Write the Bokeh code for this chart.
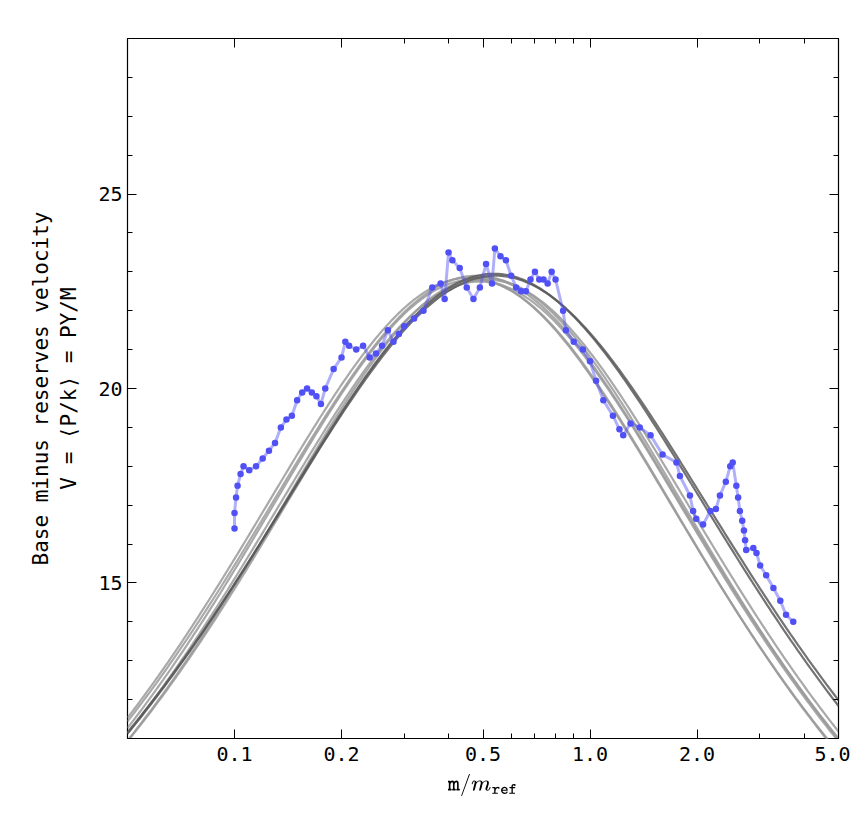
import numpy as np
from bokeh.plotting import figure
from bokeh.models import (Range1d, LinearAxis, LogAxis, FixedTicker)
from bokeh.embed import file_html
from bokeh.resources import INLINE

# measured velocity (blue dots)
m_obs = [0.100, 0.100, 0.101, 0.102, 0.104, 0.106, 0.110, 0.115, 0.12, 0.125,
         0.13, 0.135, 0.14, 0.145, 0.15, 0.155, 0.16, 0.165, 0.17, 0.175,
         0.18, 0.19, 0.20, 0.205, 0.21, 0.22, 0.23, 0.24, 0.25, 0.26,
         0.27, 0.28, 0.29, 0.30, 0.32, 0.34, 0.36, 0.38, 0.39, 0.40,
         0.41, 0.43, 0.45, 0.47, 0.49, 0.51, 0.53, 0.54, 0.56, 0.58,
         0.60, 0.62, 0.64, 0.66, 0.68, 0.70, 0.72, 0.74, 0.76, 0.78,
         0.80, 0.84, 0.855, 0.90, 0.955, 1.00, 1.04, 1.09, 1.16, 1.21,
         1.24, 1.30, 1.38, 1.48, 1.60, 1.75, 1.79, 1.91, 1.95, 1.99,
         2.08, 2.18, 2.26, 2.32, 2.41, 2.48, 2.52, 2.58, 2.61, 2.64,
         2.68, 2.71, 2.73, 2.75, 2.88, 2.94, 3.01, 3.13, 3.28, 3.43,
         3.56, 3.73]
v_obs = [16.4, 16.8, 17.2, 17.5, 17.8, 18.0, 17.9, 18.0, 18.2, 18.4,
         18.6, 19.0, 19.2, 19.3, 19.7, 19.9, 20.0, 19.9, 19.8, 19.6,
         20.0, 20.5, 20.8, 21.2, 21.1, 21.0, 21.1, 20.8, 20.9, 21.1,
         21.5, 21.2, 21.4, 21.6, 21.8, 22.0, 22.6, 22.7, 22.3, 23.5,
         23.3, 23.1, 22.6, 22.3, 22.6, 23.2, 22.7, 23.6, 23.4, 23.3,
         22.9, 22.6, 22.5, 22.5, 22.8, 23.0, 22.8, 22.8, 22.7, 23.0,
         22.8, 22.0, 21.5, 21.2, 21.0, 20.7, 20.2, 19.7, 19.3, 18.95,
         18.8, 19.1, 19.0, 18.8, 18.3, 18.1, 17.75, 17.25, 16.85, 16.65,
         16.5, 16.85, 16.9, 17.25, 17.6, 18.0, 18.1, 17.5, 17.2, 16.85,
         16.6, 16.35, 16.1, 15.85, 15.9, 15.77, 15.45, 15.2, 14.87, 14.54,
         14.18, 14.0]

# fitted curves: peak, log10 of peak position, width, colour
fit_peak = [22.85, 22.80, 22.90, 22.75, 22.85, 22.80, 22.95, 22.90]
fit_centre = [-0.34, -0.33, -0.32, -0.31, -0.30, -0.29, -0.27, -0.265]
fit_width = [0.97, 0.96, 0.98, 0.97, 0.96, 0.97, 1.00, 1.01]
fit_color = ["#9a9a9a"] * 6 + ["#5a5a5a"] * 2

x_major = [0.1, 0.2, 0.5, 1.0, 2.0, 5.0]
x_minor = [0.3, 0.4, 0.6, 0.7, 0.8, 0.9, 3.0, 4.0]
y_major = [15, 20, 25]
y_minor = list(range(11, 30))

FONT = "DejaVu Sans Mono"

p = figure(width=850, height=812, x_axis_type="log",
           x_range=Range1d(0.05, 5.0), y_range=Range1d(11, 29),
           output_backend="svg", toolbar_location=None)
p.min_border_left = 127
p.min_border_right = 12
p.min_border_top = 38
p.min_border_bottom = 74
p.grid.visible = False
p.outline_line_color = "black"
p.outline_line_width = 1.2

lm = np.linspace(np.log10(0.05), np.log10(5.0), 300)
for a, c, s, col in zip(fit_peak, fit_centre, fit_width, fit_color):
    p.line(10 ** lm, a / (1 + ((lm - c) / s) ** 2), line_color=col, line_width=2.2, line_alpha=0.85)

p.line(m_obs, v_obs, line_color="#5050f5", line_width=3, line_alpha=0.45)
p.scatter(m_obs, v_obs, size=6.5, fill_color="#5050f5", line_color=None)

p.add_layout(LinearAxis(), "right")
p.add_layout(LogAxis(), "above")
for ax in p.xaxis:
    ax.ticker = FixedTicker(ticks=x_major, minor_ticks=x_minor)
for ax in p.yaxis:
    ax.ticker = FixedTicker(ticks=y_major, minor_ticks=y_minor)
for ax in p.xaxis + p.yaxis:
    ax.major_tick_in = 9
    ax.major_tick_out = 0
    ax.minor_tick_in = 5
    ax.minor_tick_out = 0
    ax.axis_line_color = None
    ax.major_label_text_font = FONT
    ax.major_label_text_font_size = "20px"
    ax.major_label_text_color = "black"
p.xaxis[0].major_label_text_alpha = 0
p.yaxis[1].major_label_text_alpha = 0
p.xaxis[1].major_label_overrides = {0.1: "0.1", 0.2: "0.2", 0.5: "0.5", 1.0: "1.0", 2.0: "2.0", 5.0: "5.0"}
p.xaxis[1].major_label_standoff = 8

p.xaxis[1].axis_label = r"$$\mathtt{m}/m_{\mathtt{ref}}$$"
p.xaxis[1].axis_label_text_font_size = "19px"
p.xaxis[1].axis_label_text_color = "black"
p.xaxis[1].axis_label_standoff = 10

p.yaxis[0].axis_label = "Base minus reserves velocity\nV = \u27e8P/k\u27e9 = PY/M"
p.yaxis[0].axis_label_text_font = FONT
p.yaxis[0].axis_label_text_font_style = "normal"
p.yaxis[0].axis_label_text_font_size = "21px"
p.yaxis[0].axis_label_text_color = "black"
p.yaxis[0].axis_label_standoff = 14

open("out.html", "w").write(file_html(p, INLINE))
